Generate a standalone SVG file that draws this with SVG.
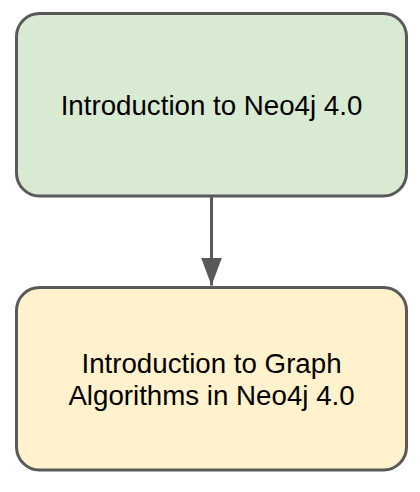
<svg xmlns="http://www.w3.org/2000/svg" width="420" height="492" viewBox="0 0 420 492">
<style>
.box{stroke:#595959;stroke-width:3}
.lbl{font-family:"Liberation Sans",Arial,sans-serif;font-size:27.7px;fill:#000;text-anchor:middle}
.edge{stroke:#595959;stroke-width:3;fill:none}
</style>
<defs>
<marker id="arr" markerUnits="userSpaceOnUse" markerWidth="28" markerHeight="21" refX="28" refY="10.5" orient="auto" viewBox="0 0 28 21">
<path d="M0,0 L28,10.5 L0,21 Z" fill="#595959"/>
</marker>
</defs>
<rect width="420" height="492" fill="#fff"/>
<g id="connectors">
<path class="edge" d="M211.5,196 L211.5,285.5" marker-end="url(#arr)"/>
</g>
<g id="node1">
<rect class="box" x="16.5" y="13.5" width="390" height="182.5" rx="23" ry="23" fill="#d9ead3"/>
<text class="lbl" x="211.5" y="115">Introduction to Neo4j 4.0</text>
</g>
<g id="node2">
<rect class="box" x="16.5" y="287.5" width="390" height="182.5" rx="23" ry="23" fill="#fff2cc"/>
<text class="lbl" x="211.5" y="373">Introduction to Graph</text>
<text class="lbl" x="211.5" y="405">Algorithms in Neo4j 4.0</text>
</g>
</svg>
